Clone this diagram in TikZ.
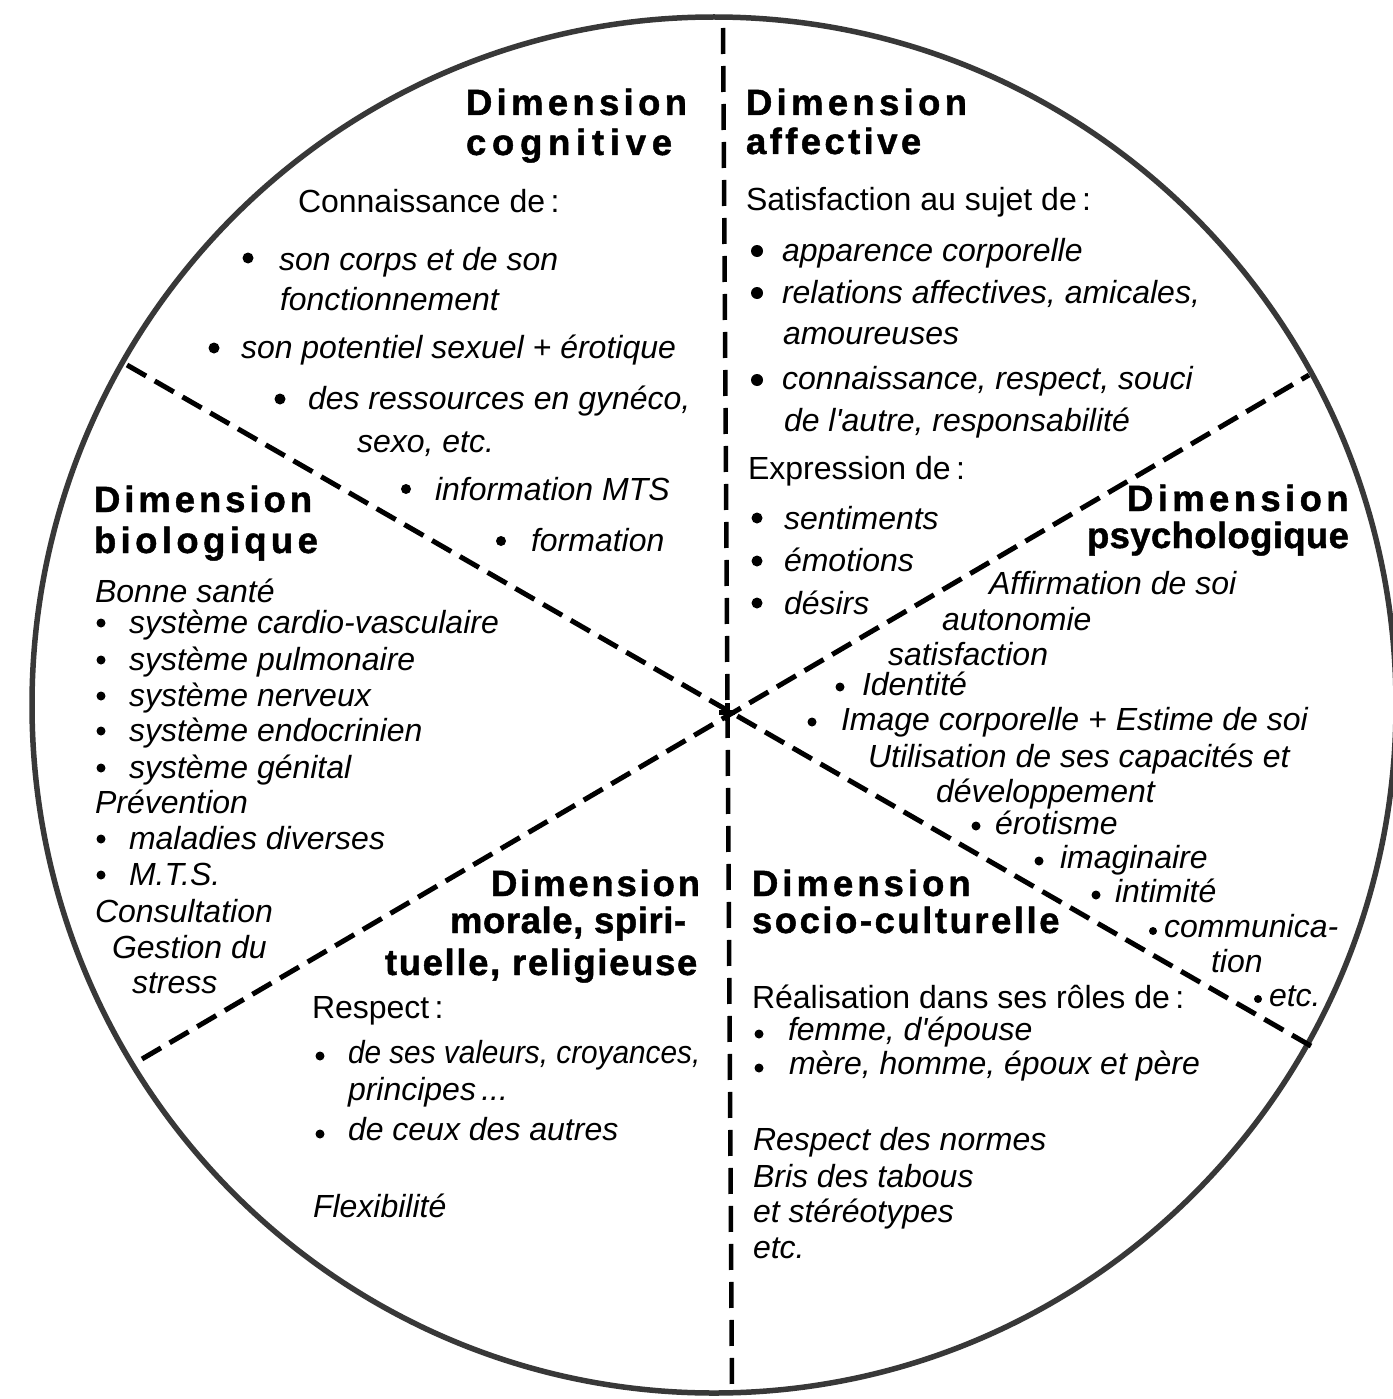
\documentclass[tikz,border=0pt]{standalone}
\usepackage{fontspec}
\setmainfont{Liberation Sans}
\usepackage{graphicx}
\newcommand\hd[2]{\addfontfeature{LetterSpace=#1,FakeBold=1.2}#2}
\newcommand\apo{\textquotesingle}
% bullet centre x, bullet centre y, radius, text x, baseline y, name, text
\newcommand\bitem[7]{\fill[black] (#1,#2) circle (#3); \node[txt] (#6) at (#4,#5) {#7};}
\begin{document}
\begin{tikzpicture}[x=1pt,y=-1pt,
  txt/.style={inner sep=0pt,outer sep=0pt,anchor=base west,font=\fontsize{32}{38}\selectfont\itshape},
  reg/.style={txt,font=\fontsize{32}{38}\selectfont\upshape},
  head/.style={inner sep=0pt,outer sep=0pt,anchor=base west,font=\fontsize{36.5}{42}\selectfont\bfseries},
  rim/.style={line width=5.5pt,draw=black!78},
  divider/.style={line width=5pt,dash pattern=on 22pt off 10pt},
  axisline/.style={line width=4.5pt,dash pattern=on 26pt off 12pt}]
\useasboundingbox (0,0) rectangle (1392,1399);
\fill[white] (0,0) rectangle (1392,1399);
% circle
\draw[rim] (714,705) ellipse [x radius=682, y radius=688];
% dividers
\coordinate (O) at (727,712);
\coordinate (vT) at (723,28);
\coordinate (vB) at (732,1393);
\coordinate (aL) at (127,365);
\coordinate (aR) at (1311,1046);
\coordinate (bL) at (142,1059);
\coordinate (bR) at (1309,375);
\draw[axisline] (vT) -- (vB);
\draw[divider] (aL) -- (aR);
\draw[divider] (bL) -- (bR);
\draw[line width=5pt] ([xshift=-8pt]O) -- ([xshift=8pt]O);
\draw[line width=5pt] ([yshift=-9pt]O) -- ([yshift=9pt]O);

% ---- cognitive
\node[head] (c1) at (466,115) {\hd{11.8}{Dimension}};
\node[head] (c2) at (466,155) {\hd{15.7}{cognitive}};
\node[reg] (c2b) at (298,212) {Connaissance de\,:};
\bitem{248}{258}{5.5}{279}{270}{c3}{son corps et de son}
\node[txt] (c4) at (280,310) {fonctionnement};
\bitem{214}{348}{5.5}{241}{358}{c5}{son potentiel sexuel + érotique}
\bitem{280}{399}{5.5}{308}{409}{c6}{des ressources en gynéco,}
\node[txt] (c7) at (357,452) {sexo, etc.};
\bitem{406}{489}{5}{435}{500}{c8}{information MTS}
\bitem{501}{541}{5}{531}{551}{c9}{formation}

% ---- affective
\node[head] (a1) at (746,115) {\hd{11.8}{Dimension}};
\node[head] (a2) at (746,154) {\hd{9.3}{affective}};
\node[reg] (a2b) at (746,210) {Satisfaction au sujet de\,:};
\bitem{757}{251}{6}{782}{261}{a3}{apparence corporelle}
\bitem{757}{293}{6}{782}{303}{a4}{relations affectives, amicales,}
\node[txt] (a5) at (783,344) {amoureuses};
\bitem{757}{380}{6}{782}{389}{a6}{connaissance, respect, souci}
\node[txt] (a7) at (784,431) {de l\apo autre, responsabilité};
\node[reg] (a8) at (748,479) {Expression de\,:};
\bitem{757}{518}{5.5}{784}{529}{a9}{sentiments}
\bitem{757}{561}{5.5}{784}{571}{a10}{émotions}
\bitem{757}{603}{5.5}{784}{614}{a11}{désirs}

% ---- psychologique
\node[head] (p1) at (1127,511) {\hd{12}{Dimension}};
\node[head] (p2) at (1087,548) {\hd{1}{psychologique}};
\node[txt] (p3) at (989,594) {Affirmation de soi};
\node[txt] (p4) at (942,630) {autonomie};
\node[txt] (p5) at (888,665) {satisfaction};
\bitem{840}{687}{4.5}{862}{695}{p6}{Identité}
\bitem{812}{722}{4.5}{841}{730}{p7}{Image corporelle + Estime de soi}
\node[txt] (p8) at (868,767) {Utilisation de ses capacités et};
\node[txt] (p9) at (936,802) {développement};
\bitem{976}{826}{4.5}{995}{834}{p10}{érotisme}
\bitem{1039}{861}{4.5}{1060}{868}{p11}{imaginaire}
\bitem{1096}{895}{4.5}{1115}{902}{p12}{intimité}
\bitem{1153}{931}{4}{1164}{937}{p13}{communica-}
\node[txt] (p14) at (1211,972) {tion};
\bitem{1258}{999}{4}{1269}{1006}{p15}{etc.}

% ---- socio-culturelle
\node[head] (s1) at (752,896) {\hd{11}{Dimension}};
\node[head] (s2) at (752,933) {\hd{6.9}{socio-culturelle}};
\node[reg] (s3) at (752,1008) {Réalisation dans ses rôles de\,:};
\bitem{759}{1034}{4.5}{788}{1040}{s4}{femme, d\apo épouse}
\bitem{759}{1068}{4.5}{789}{1074}{s5}{mère, homme, époux et père}
\node[txt] (s6) at (753,1150) {Respect des normes};
\node[txt] (s7) at (753,1187) {Bris des tabous};
\node[txt] (s8) at (753,1222) {et stéréotypes};
\node[txt] (s9) at (753,1258) {etc.};

% ---- morale
\node[head] (m1) at (491,896) {\hd{7.7}{Dimension}};
\node[head] (m2) at (450,933) {\hd{1.6}{morale, spiri-}};
\node[head] (m3) at (385,975) {\hd{4.5}{tuelle, religieuse}};
\node[reg] (m4) at (312,1018) {Respect\,:};
\bitem{320}{1056}{4.5}{348}{1063}{m5}{\scalebox{0.93}[1]{de ses valeurs, croyances,}}
\node[txt] (m6) at (348,1100) {principes\,...};
\bitem{320}{1134}{4.5}{348}{1140}{m7}{de ceux des autres}
\node[txt] (m8) at (313,1217) {Flexibilité};

% ---- biologique
\node[head] (b1) at (94,512) {\hd{10.8}{Dimension}};
\node[head] (b2) at (94,553) {\hd{12}{biologique}};
\node[txt] (b3) at (95,602) {Bonne santé};
\bitem{101}{623}{4.5}{129}{633}{b4}{système cardio-vasculaire}
\bitem{101}{660}{4.5}{129}{670}{b5}{système pulmonaire}
\bitem{101}{696}{4.5}{129}{706}{b6}{système nerveux}
\bitem{101}{731}{4.5}{129}{741}{b7}{système endocrinien}
\bitem{101}{768}{4.5}{129}{778}{b8}{système génital}
\node[txt] (b9) at (95,813) {Prévention};
\bitem{101}{839}{4.5}{129}{849}{b10}{maladies diverses}
\bitem{101}{875}{4.5}{129}{885}{b11}{M.T.S.}
\node[txt] (b12) at (95,922) {Consultation};
\node[txt] (b13) at (112,958) {Gestion du};
\node[txt] (b14) at (132,993) {stress};
\end{tikzpicture}
\end{document}
